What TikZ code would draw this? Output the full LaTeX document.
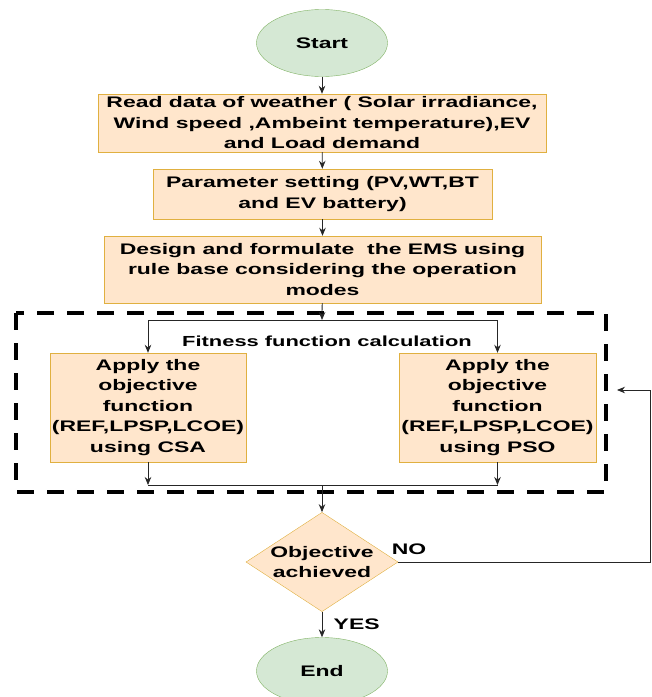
\documentclass[tikz,border=0pt]{standalone}
\usepackage{fontspec}
\setmainfont{Liberation Sans}[FakeStretch=1.5]
\usetikzlibrary{
  arrows.meta,
  shapes.geometric
}
\definecolor{termfill}{HTML}{D5E8D4}
\definecolor{termline}{HTML}{82B366}
\definecolor{procfill}{HTML}{FFE6CC}
\definecolor{procline}{HTML}{E0B040}
\tikzset{>={Stealth[length=8pt,width=6.5pt]}}
\tikzset{
  every node/.style={font=\bfseries\fontsize{15.3}{20.5}\selectfont},
  terminal/.style={ellipse,draw=termline,fill=termfill,minimum width=131pt,minimum height=67pt},
  procbox/.style={rectangle,draw=procline,fill=procfill,align=center,inner sep=0pt},
  decision/.style={diamond,draw=procline,fill=procfill,align=center,inner sep=0pt,
    aspect=1.53,minimum width=152pt,minimum height=99pt},
  flow/.style={->,draw=black!85,line width=0.8pt},
  fitbox/.style={draw=black,line width=4.5pt,dash pattern=on 17pt off 13pt}
}

\begin{document}
\begin{tikzpicture}[x=1pt,y=-1pt]
\useasboundingbox (0,0) rectangle (652,697);
\node[terminal] (start) at (322,43) {Start};
\node[procbox,minimum width=448pt,minimum height=58pt] (readdata) at (322,123)
  {Read data of weather ( Solar irradiance,\\Wind speed ,Ambeint temperature),EV\\and Load demand};
\node[procbox,minimum width=339pt,minimum height=50pt] (param) at (322.5,194)
  {Parameter setting (PV,WT,BT\\and EV battery)};
\node[procbox,minimum width=437pt,minimum height=67pt] (design) at (322.5,269.5)
  {Design and formulate \ the EMS using\\rule base considering the operation\\modes};
\draw[fitbox] (16,313) rectangle (606,492);
\node[font=\bfseries\fontsize{14.6}{18}\selectfont] (fitness) at (327,341) {Fitness function calculation};
\node[procbox,minimum width=196pt,minimum height=109pt] (csa) at (148,407.5)
  {Apply the\\objective\\function\\(REF,LPSP,LCOE)\\using CSA};
\node[procbox,minimum width=197pt,minimum height=109pt] (pso) at (497.5,407.5)
  {Apply the\\objective\\function\\(REF,LPSP,LCOE)\\using PSO};
\node[decision] (check) at (322,562) {Objective\\achieved};
\node[terminal] (stop) at (322,671) {End};
\coordinate (split) at (322,320);
\coordinate (merge) at (322,485);
\coordinate (reentry) at (617,390);

\draw[flow] (start) -- (readdata);
\draw[flow] (readdata) -- (param);
\draw[flow] (param) -- (design);
\draw[flow] (design) -- (split);
\draw[flow] (split) -| (csa);
\draw[flow] (split) -| (pso);
\draw[flow] (csa) -- (csa |- merge);
\draw[flow] (pso) -- (pso |- merge);
\draw[draw=black!85,line width=0.8pt] (csa |- merge) -- (pso |- merge);
\draw[flow] (merge) -- (check);
\draw[flow] (check) -- node[right=8pt] {YES} (stop);
\draw[flow] (check.east) -| ([xshift=33pt]reentry) -- (reentry);
\node (no) at (409,549) {NO};
\end{tikzpicture}
\end{document}
